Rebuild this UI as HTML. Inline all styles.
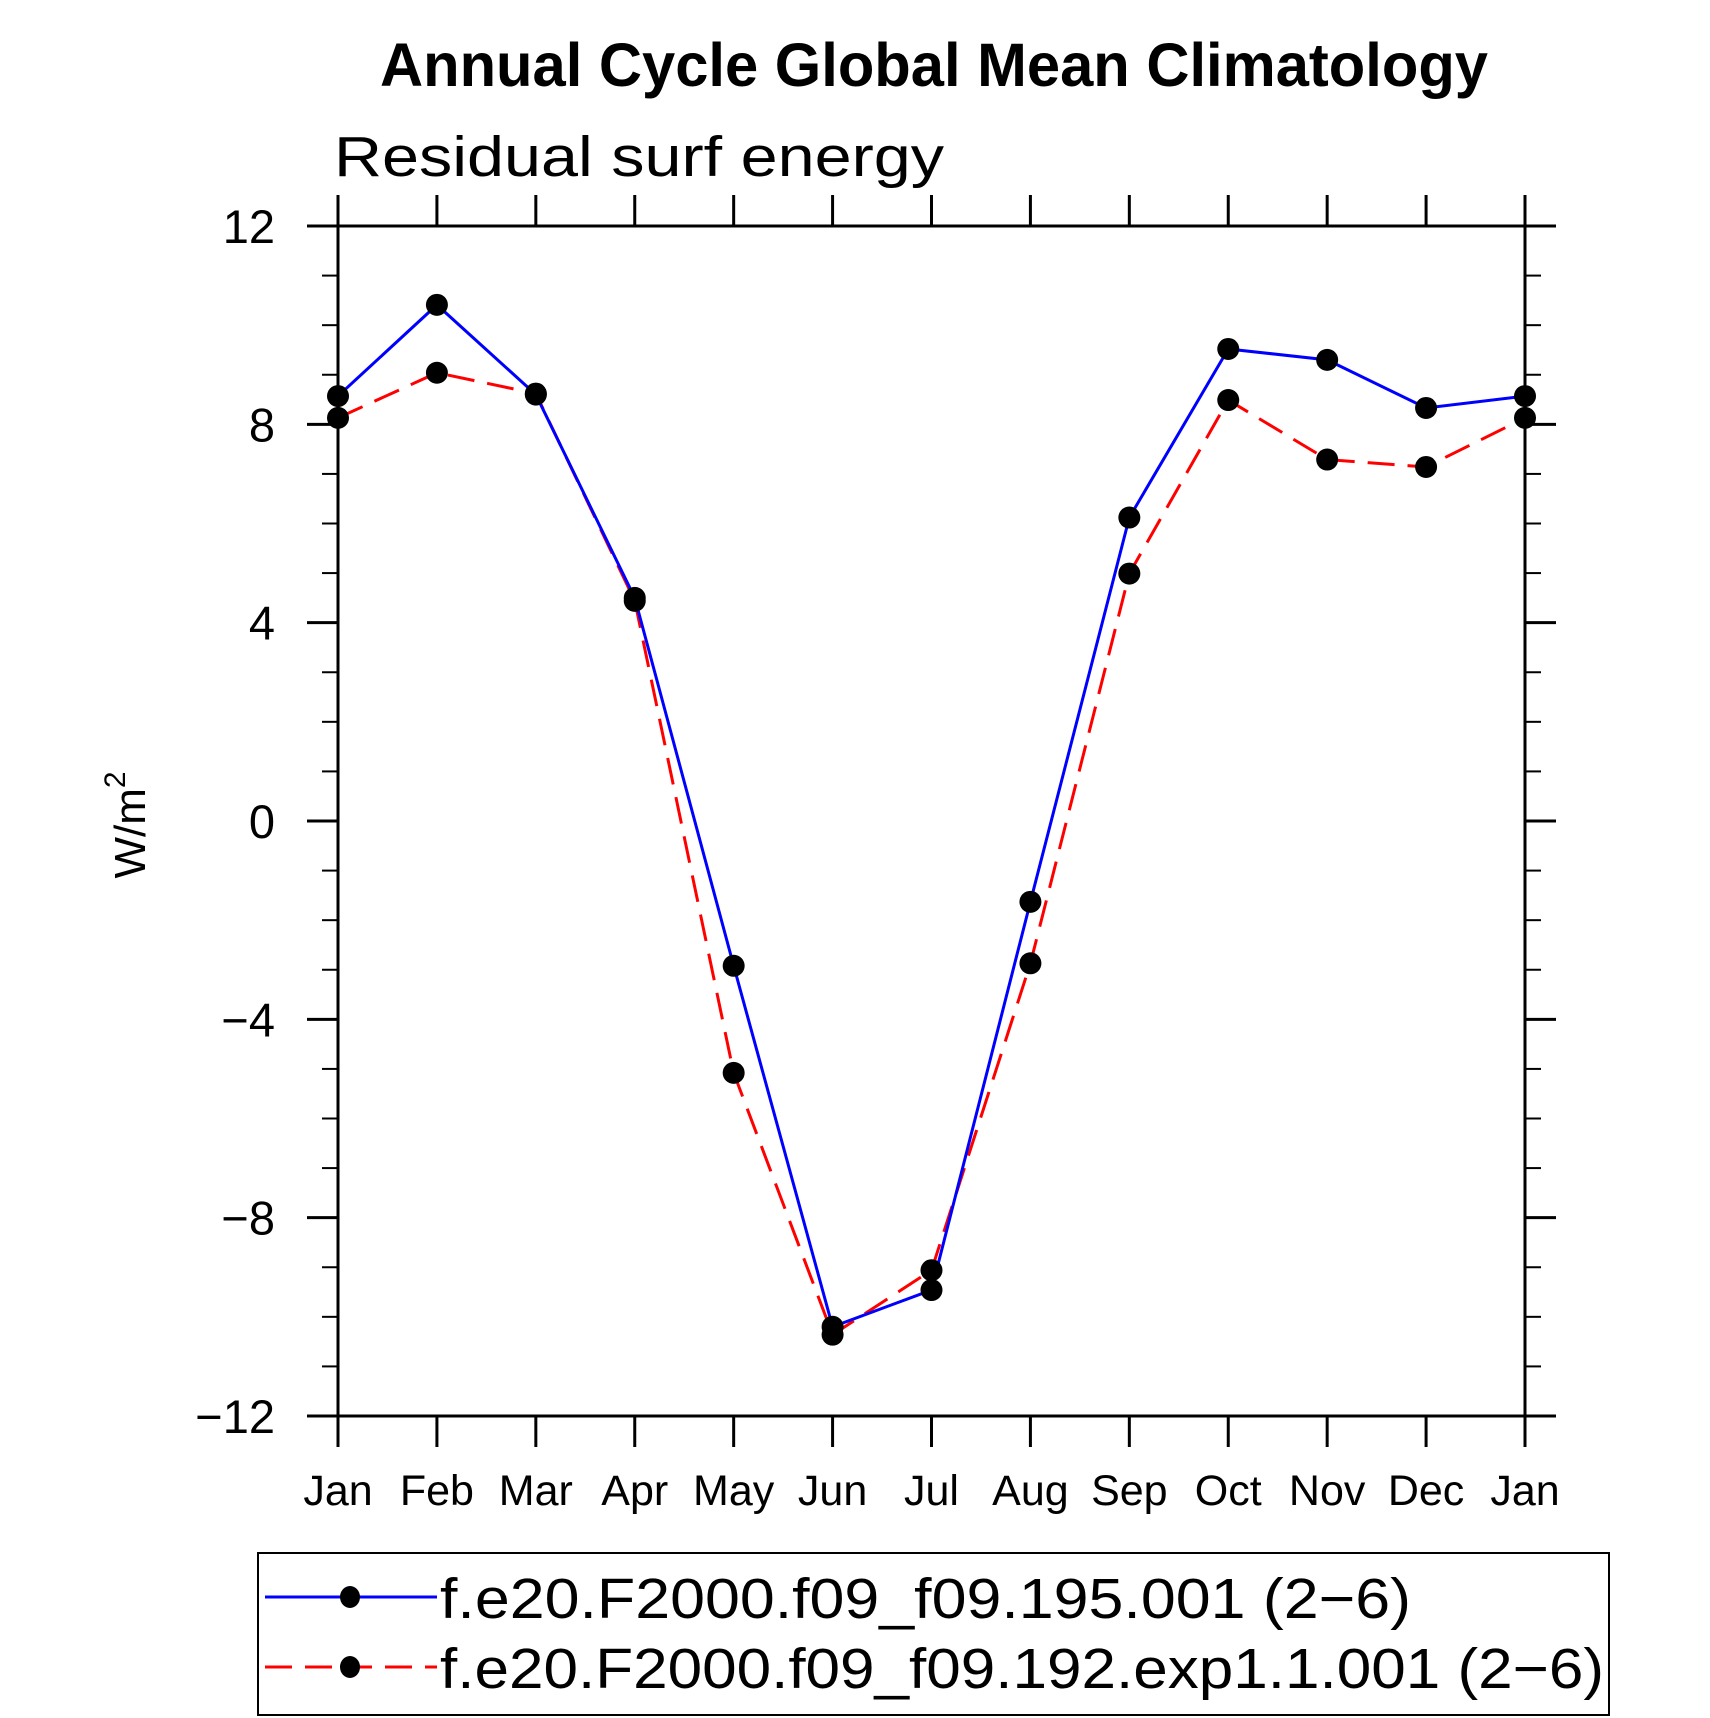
<!DOCTYPE html>
<html><head><meta charset="utf-8"><style>
html,body{margin:0;padding:0;background:#fff;width:1710px;height:1718px;overflow:hidden}
text{font-family:"Liberation Sans","DejaVu Sans",sans-serif}
</style></head><body>
<svg id="chart" width="1710" height="1718" xmlns="http://www.w3.org/2000/svg">
<text x="934" y="86" font-size="61" font-weight="bold" text-anchor="middle" textLength="1108" lengthAdjust="spacingAndGlyphs">Annual Cycle Global Mean Climatology</text>
<text x="334" y="176" font-size="57" font-weight="300" textLength="610" lengthAdjust="spacingAndGlyphs">Residual surf energy</text>
<text transform="translate(145,825) rotate(-90)" font-size="44" text-anchor="middle">W/m<tspan dy="-20" font-size="30">2</tspan></text>
<g id="axes"></g>
<g id="series"></g>
<rect x="258" y="1553" width="1351" height="162" fill="none" stroke="#000" stroke-width="2"/>
<g id="legend"></g>
</svg>
<script>
const months = ["Jan","Feb","Mar","Apr","May","Jun","Jul","Aug","Sep","Oct","Nov","Dec","Jan"];
const yTicks = [12,8,4,0,-4,-8,-12];
const yTickLabels = ["12","8","4","0","\u22124","\u22128","\u221212"];
const blueValues = [8.57,10.41,8.6,4.5,-2.92,-10.2,-9.46,-1.63,6.12,9.52,9.3,8.33,8.57];
const redValues = [8.13,9.04,8.62,4.44,-5.08,-10.36,-9.06,-2.87,4.99,8.49,7.29,7.14,8.13];
const seriesNames = ["f.e20.F2000.f09_f09.195.001 (2\u22126)","f.e20.F2000.f09_f09.192.exp1.1.001 (2\u22126)"];

const NS="http://www.w3.org/2000/svg";
const L=338,R=1525,T=226,B=1416,yMin=-12,yMax=12;
const xs=i=>L+(R-L)*i/(months.length-1);
const ys=v=>B-(v-yMin)/(yMax-yMin)*(B-T);
function mk(tag,attrs,parent){const e=document.createElementNS(NS,tag);for(const k in attrs)e.setAttribute(k,attrs[k]);parent.appendChild(e);return e;}
const axes=document.getElementById('axes');
const frame=mk('rect',{x:L,y:T,width:R-L,height:B-T,fill:'none',stroke:'#000','stroke-width':3},axes);


months.forEach((m,i)=>{
  const x=xs(i);
  const t1=mk('line',{x1:x,x2:x,y1:T-31,y2:T,stroke:'#000','stroke-width':3},axes);
  
  
  const t2=mk('line',{x1:x,x2:x,y1:B,y2:B+31,stroke:'#000','stroke-width':3},axes);
  
  
  const tx=mk('text',{x:x,y:1505,'font-size':43,'text-anchor':'middle','font-weight':'300'},axes);
  tx.textContent=m;
  
  
});
for(let v=yMin;v<=yMax;v++){
  const y=ys(v);const major=(v%4===0);const len=major?31:16;
  const a=mk('line',{x1:L-len,x2:L,y1:y,y2:y,stroke:'#000','stroke-width':major?3:2},axes);
  
  
  const b=mk('line',{x1:R,x2:R+len,y1:y,y2:y,stroke:'#000','stroke-width':major?3:2},axes);
  
  
}
yTicks.forEach((v,i)=>{
  const t=mk('text',{x:275,y:ys(v)+17,'font-size':47,'text-anchor':'end','font-weight':'300'},axes);
  t.textContent=yTickLabels[i];
  
  
});
const sg=document.getElementById('series');
function drawSeries(vals,color,dash,name){
  const p=mk('polyline',{points:vals.map((v,i)=>xs(i)+','+ys(v)).join(' '),fill:'none',stroke:color,'stroke-width':3,'stroke-dasharray':dash},sg);
  
  
}
function drawDots(vals,name){
  vals.forEach((v,i)=>{
    const c=mk('circle',{cx:xs(i),cy:ys(v),r:11,fill:'#000'},sg);
    
    
  });
}
drawSeries(redValues,'#ff0000','27 13','red-series');
drawSeries(blueValues,'#0000ff','none','blue-series');
drawDots(blueValues,'blue-series');
drawDots(redValues,'red-series');
const lg=document.getElementById('legend');
[['#0000ff','none',1597,971],['#ff0000','27 13',1667,1164]].forEach((s,i)=>{
  const ln=mk('line',{x1:265,x2:437,y1:s[2],y2:s[2],stroke:s[0],'stroke-width':3,'stroke-dasharray':s[1]},lg);
  
  
  const c=mk('ellipse',{cx:350,cy:s[2],rx:10,ry:11,fill:'#000'},lg);
  
  
  const t=mk('text',{x:440,y:s[2]+21,'font-size':57,'font-weight':'300',textLength:s[3],lengthAdjust:'spacingAndGlyphs'},lg);
  t.textContent=seriesNames[i];
  
  
});
</script>
</body></html>
